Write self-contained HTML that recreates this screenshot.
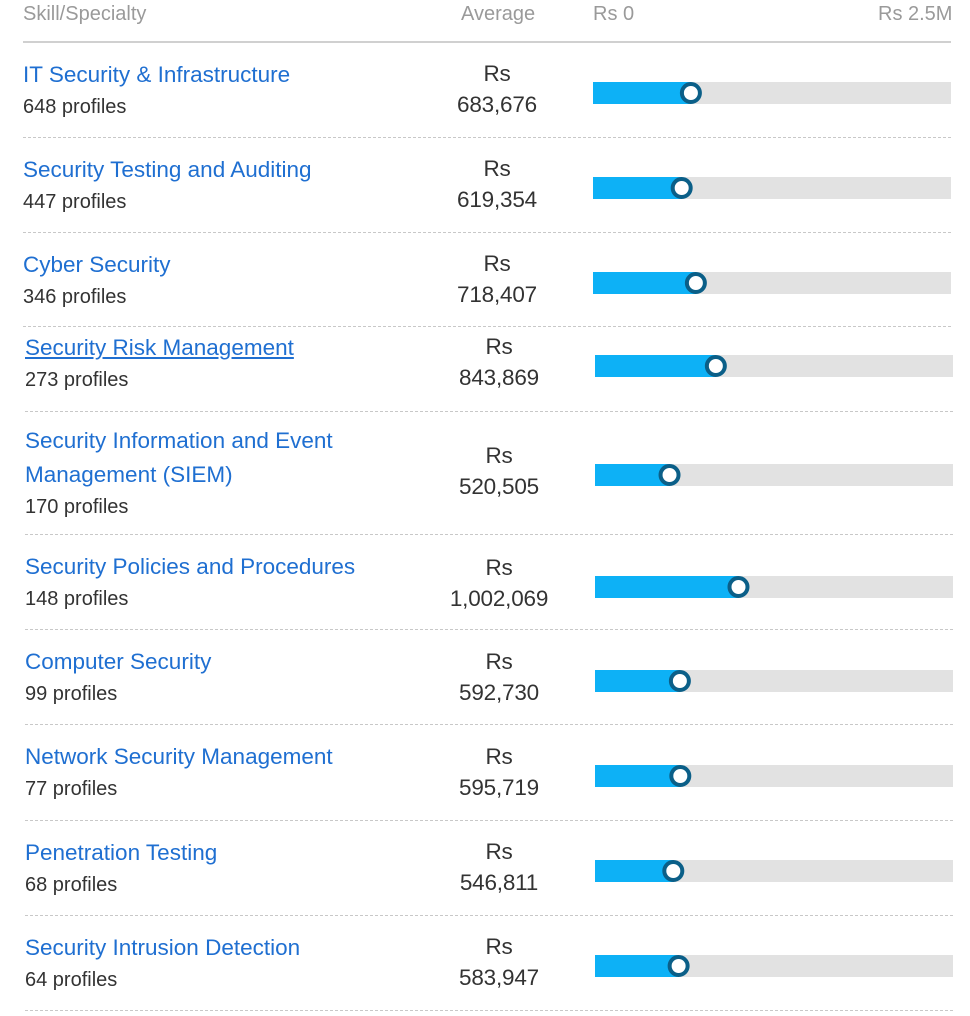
<!DOCTYPE html>
<html><head><meta charset="utf-8">
<style>
body{margin:0;background:#fff;width:970px;height:1016px;position:relative;overflow:hidden;font-family:"Liberation Sans",sans-serif;}
.t{position:absolute;white-space:nowrap;}
.hd{color:#9a9a9a;font-size:20px;top:3px;}
.title{color:#1f6fd1;font-size:22.5px;line-height:34px;}
.prof{color:#333;font-size:20px;}
.avg{color:#333;font-size:22.5px;text-align:center;width:160px;letter-spacing:-0.2px;}
.sep{position:absolute;height:0;border-top:1px dashed #c8c8c8;}
</style></head><body>
<div class="t hd" style="left:23px">Skill/Specialty</div>
<div class="t hd" style="left:461px">Average</div>
<div class="t hd" style="left:593px">Rs 0</div>
<div class="t hd" style="left:878px">Rs 2.5M</div>
<div style="position:absolute;left:23px;width:928px;top:41px;height:2px;background:#d0d0d0"></div>
<svg id="bars" width="970" height="1016" style="position:absolute;left:0;top:0"></svg>
<script>
const skills=["IT Security & Infrastructure","Security Testing and Auditing","Cyber Security","Security Risk Management","Security Information and Event|Management (SIEM)","Security Policies and Procedures","Computer Security","Network Security Management","Penetration Testing","Security Intrusion Detection"];
const profiles=[648,447,346,273,170,148,99,77,68,64];
const averages=[683676,619354,718407,843869,520505,1002069,592730,595719,546811,583947];
const scaleMax=2500000;
// layout (not data)
const barY=[93,188,283,366,475,587,681,776,871,966];
const titleTop=[58,153,248,331,424,550,645,740,836,931];
const sepY=[137,232,326,411,534,629,724,820,915,1010];
const ns="http://www.w3.org/2000/svg";
const svg=document.getElementById('bars');
skills.forEach((s,i)=>{
  const sh=i>=3?2:0, left=23+sh, bx=593+sh, bw=358;
  const lines=s.split('|');
  lines.forEach((ln,k)=>{
    const d=document.createElement('div');d.className='t title';
    
    
    d.style.left=left+'px';d.style.top=(titleTop[i]+k*34)+'px';d.textContent=ln;
    if(i===3)d.style.textDecoration='underline';
    document.body.appendChild(d);
  });
  const p=document.createElement('div');p.className='t prof';
  
  
  p.style.left=left+'px';p.style.top=(titleTop[i]+lines.length*34+4)+'px';p.textContent=profiles[i]+' profiles';
  document.body.appendChild(p);
  const cy=barY[i];
  const a1=document.createElement('div');a1.className='t avg';
  
  
  a1.style.left=(417+sh)+'px';a1.style.top=(cy-32)+'px';a1.textContent='Rs';
  document.body.appendChild(a1);
  const a2=document.createElement('div');a2.className='t avg';
  
  
  a2.style.left=(417+sh)+'px';a2.style.top=(cy-1)+'px';a2.textContent=averages[i].toLocaleString('en-US');
  document.body.appendChild(a2);
  const x=v=>bx+v/scaleMax*bw;
  const tr=document.createElementNS(ns,'rect');
  
  
  tr.setAttribute('x',bx);tr.setAttribute('y',cy-11);tr.setAttribute('width',bw);tr.setAttribute('height',22);tr.setAttribute('fill','#e2e2e2');svg.appendChild(tr);
  const f=document.createElementNS(ns,'rect');
  
  
  f.setAttribute('x',bx);f.setAttribute('y',cy-11);f.setAttribute('width',x(averages[i])-bx);f.setAttribute('height',22);f.setAttribute('fill','#0db1f6');svg.appendChild(f);
  const c=document.createElementNS(ns,'circle');
  
  
  c.setAttribute('cx',x(averages[i]));c.setAttribute('cy',cy);c.setAttribute('r',9);c.setAttribute('fill','#fff');c.setAttribute('stroke','#0b5f88');c.setAttribute('stroke-width',4);svg.appendChild(c);
  const sp=document.createElement('div');sp.className='sep';
  
  
  sp.style.left=left+'px';sp.style.width='928px';sp.style.top=sepY[i]+'px';
  document.body.appendChild(sp);
});
</script>
</body></html>
